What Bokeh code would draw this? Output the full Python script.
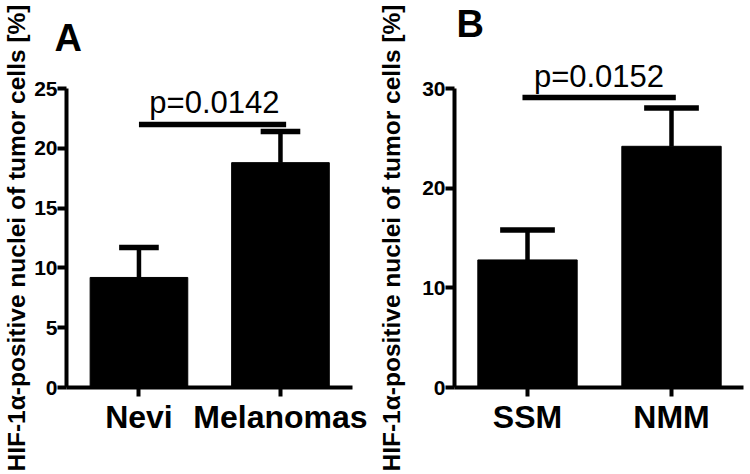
from bokeh.plotting import figure
from bokeh.layouts import row
from bokeh.models import FixedTicker, Label, LinearAxis, Range1d, Title
from bokeh.embed import file_html
from bokeh.resources import INLINE

FONT = "Liberation Sans"
Y_TITLE = "HIF-1\u03b1-positive nuclei of tumor cells [%]"

# Panel A data
a_categories = ["Nevi", "Melanomas"]
a_means = [9.2, 18.8]
a_sems = [2.5, 2.6]
a_yticks = [0, 5, 10, 15, 20, 25]
a_ymax = 25
a_pvalue = "p=0.0142"
a_sig_y = 22.0

# Panel B data
b_categories = ["SSM", "NMM"]
b_means = [12.8, 24.2]
b_sems = [3.0, 3.85]
b_yticks = [0, 10, 20, 30]
b_ymax = 30
b_pvalue = "p=0.0152"
b_sig_y = 29.1


def base(cats, means, sems, yticks, ymax, width, height, bl, br, bt, bb, xr,
         cap_hw, sig_x, sig_y, title_standoff):
    xs = list(range(1, len(cats) + 1))
    p = figure(width=width, height=height, output_backend="svg",
               toolbar_location=None, x_range=Range1d(*xr),
               y_range=Range1d(0, ymax),
               min_border_left=bl, min_border_right=br,
               min_border_top=bt, min_border_bottom=bb)
    p.title = None
    p.outline_line_color = None
    p.xgrid.visible = False
    p.ygrid.visible = False

    p.vbar(x=xs, top=means, bottom=0, width=0.69, fill_color="black",
           line_color="black", line_width=1)
    tops = [m + s for m, s in zip(means, sems)]
    p.segment(x0=xs, y0=means, x1=xs, y1=tops, line_color="black",
              line_width=4.5)
    p.segment(x0=[x - cap_hw for x in xs], y0=tops,
              x1=[x + cap_hw for x in xs], y1=tops,
              line_color="black", line_width=5.5)
    p.segment(x0=[sig_x[0]], y0=[sig_y], x1=[sig_x[1]], y1=[sig_y],
              line_color="black", line_width=5.5)

    for ax in (p.xaxis[0], p.yaxis[0]):
        ax.axis_line_width = 4
        ax.axis_line_color = "black"
        ax.major_tick_line_width = 4
        ax.major_tick_line_color = "black"
        ax.major_tick_in = 0
        ax.major_tick_out = 9
        ax.minor_tick_line_color = None
        ax.major_label_text_font = FONT
        ax.major_label_text_color = "black"
        ax.major_label_text_font_style = "bold"

    p.xaxis.ticker = FixedTicker(ticks=xs)
    p.xaxis.major_label_overrides = {x: c for x, c in zip(xs, cats)}
    p.xaxis.major_label_text_font_size = "32px"
    p.xaxis.major_label_standoff = 2

    p.yaxis.ticker = FixedTicker(ticks=yticks)
    p.yaxis.major_label_text_font_size = "21px"
    p.yaxis.major_label_standoff = 0
    p.yaxis.axis_label = Y_TITLE
    p.yaxis.axis_label_text_font = FONT
    p.yaxis.axis_label_text_font_size = "24.5px"
    p.yaxis.axis_label_text_font_style = "bold"
    p.yaxis.axis_label_text_color = "black"
    p.yaxis.axis_label_standoff = title_standoff
    return p


def title(text, size, bold, align, offset, standoff):
    return Title(text=text, text_font=FONT, text_font_size=size,
                 text_font_style="bold" if bold else "normal",
                 text_color="black", align=align, offset=offset,
                 standoff=standoff)


def axis_spacer(px, at):
    # a label-less axis whose white tick only reserves vertical room
    return LinearAxis(ticker=FixedTicker(ticks=[at]), axis_line_color=None,
                      major_tick_line_color="white",
                      minor_tick_line_color=None,
                      major_tick_in=0, major_tick_out=px, minor_tick_in=0,
                      minor_tick_out=0, major_label_standoff=0,
                      major_label_text_font_size="1px",
                      major_label_overrides={at: ""})


# Panel A
pa = base(a_categories, a_means, a_sems, a_yticks, a_ymax, 375, 474,
          62, 23, 88, 87, (0.488, 2.509), 0.14, (1.0, 2.04), a_sig_y, 1)
pa.add_layout(Label(x=1.533, y=23.85, text=a_pvalue, text_font=FONT,
                    text_font_size="31px", text_align="center",
                    text_baseline="alphabetic", text_color="black"))
pa.add_layout(axis_spacer(30, 2), "above")
pa.add_layout(title("A", "38px", True, "left", -12, 0), "above")

# Panel B
pb = base(b_categories, b_means, b_sems, b_yticks, b_ymax, 375, 474,
          79, 7, 88, 87, (0.493, 2.5), 0.19, (0.965, 2.03), b_sig_y, 14)
pb.add_layout(title(b_pvalue, "31px", False, "center", -3, -11), "above")
pb.add_layout(axis_spacer(26, 2), "above")
pb.add_layout(title("B", "38px", True, "left", 2, -16), "above")

layout = row(pa, pb)
open("out.html", "w").write(file_html(layout, INLINE))
